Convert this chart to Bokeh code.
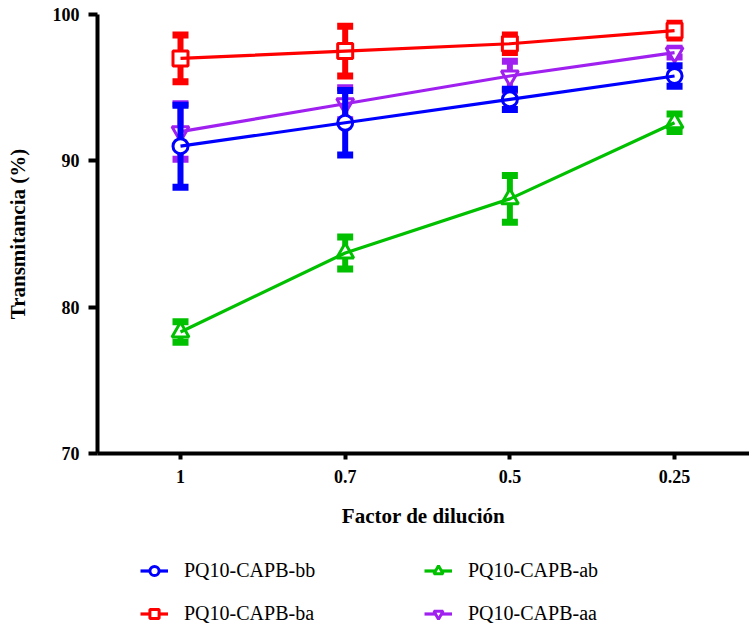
from bokeh.plotting import figure
from bokeh.models import Legend, LegendItem, FixedTicker, Range1d
from bokeh.layouts import column
from bokeh.embed import file_html
from bokeh.resources import INLINE

# ---- data ----
dilution_labels = ["1", "0.7", "0.5", "0.25"]
xpos = [0, 1, 2, 3]

bb_mean = [91.0, 92.6, 94.2, 95.8]
bb_sd = [2.8, 2.2, 0.7, 0.7]
ba_mean = [97.0, 97.5, 98.0, 98.9]
ba_sd = [1.6, 1.7, 0.6, 0.5]
ab_mean = [78.3, 83.7, 87.4, 92.6]
ab_sd = [0.7, 1.1, 1.6, 0.6]
aa_mean = [92.0, 93.9, 95.8, 97.4]
aa_sd = [1.9, 1.1, 1.0, 0.3]

y_ticks = [70, 80, 90, 100]

SERIF = "Liberation Serif"

p = figure(width=749, height=540, output_backend="svg", toolbar_location=None,
           x_range=Range1d(-0.504, 3.455), y_range=Range1d(70, 100),
           min_border_left=97, min_border_right=0, min_border_top=14,
           min_border_bottom=87)

# legend-only panel below the chart (its range keeps the series out of view)
lg = figure(width=749, height=90, output_backend="svg", toolbar_location=None,
            x_axis_type=None, y_axis_type=None,
            x_range=Range1d(0, 1), y_range=Range1d(0, 1),
            min_border_left=0, min_border_right=0, min_border_top=0,
            min_border_bottom=0)
lg.outline_line_color = None
lg.xgrid.visible = False
lg.ygrid.visible = False

series = [
    ("PQ10-CAPB-aa", aa_mean, aa_sd, "#A020F0", "inverted_triangle", 17),
    ("PQ10-CAPB-ab", ab_mean, ab_sd, "#00C000", "triangle", 17),
    ("PQ10-CAPB-ba", ba_mean, ba_sd, "#FF0000", "square", 15),
    ("PQ10-CAPB-bb", bb_mean, bb_sd, "#0000FF", "circle", 15),
]

items = {}
for name, mean, sd, color, marker, msize in series:
    upper = [m + s for m, s in zip(mean, sd)]
    lower = [m - s for m, s in zip(mean, sd)]
    p.segment(x0=xpos, y0=lower, x1=xpos, y1=upper, line_color=color, line_width=6)
    p.scatter(x=xpos, y=upper, marker="dash", size=16, line_width=7, line_color=color)
    p.scatter(x=xpos, y=lower, marker="dash", size=16, line_width=7, line_color=color)
    p.scatter(x=xpos, y=mean, marker=marker, size=msize, line_color=color,
              line_width=3, fill_color="white")
    p.line(x=xpos, y=mean, line_color=color, line_width=3.2)
    # same series in the legend panel (outside its visible range; swatches only)
    lr = lg.line(x=xpos, y=mean, line_color=color, line_width=3.2)
    mr = lg.scatter(x=xpos, y=mean, marker=marker, size=msize, line_color=color,
                    line_width=3, fill_color="white")
    items[name] = LegendItem(label=name, renderers=[lr, mr])

legend = Legend(
    items=[items["PQ10-CAPB-bb"], items["PQ10-CAPB-ba"],
           items["PQ10-CAPB-ab"], items["PQ10-CAPB-aa"]],
    location=(43, 5.5), ncols=2,
    glyph_width=28, glyph_height=23, label_height=23, label_width=220,
    label_standoff=16, spacing=20, padding=0, margin=0,
    border_line_color=None, background_fill_alpha=0,
    label_text_font=SERIF, label_text_font_size="20px", label_text_color="black",
)
lg.add_layout(legend, "center")

# axes
p.xaxis.ticker = FixedTicker(ticks=xpos)
p.xaxis.major_label_overrides = {i: l for i, l in zip(xpos, dilution_labels)}
p.yaxis.ticker = FixedTicker(ticks=y_ticks)
p.xaxis.axis_label = "Factor de dilución"
p.yaxis.axis_label = "Transmitancia (%)"

for ax in (p.xaxis, p.yaxis):
    ax.axis_line_width = 4
    ax.axis_line_color = "black"
    ax.major_tick_line_width = 4
    ax.major_tick_line_color = "black"
    ax.major_tick_in = 0
    ax.minor_tick_line_color = None
    ax.major_label_text_font = SERIF
    ax.major_label_text_font_style = "bold"
    ax.major_label_text_font_size = "18px"
    ax.major_label_text_color = "black"
    ax.axis_label_text_font = SERIF
    ax.axis_label_text_font_style = "bold"
    ax.axis_label_text_font_size = "21px"
    ax.axis_label_text_color = "black"

p.yaxis.major_tick_out = 9
p.xaxis.major_tick_out = 6
p.yaxis.major_label_standoff = 9
p.xaxis.major_label_standoff = 10
p.yaxis.axis_label_standoff = 20
p.xaxis.axis_label_standoff = 18

p.xgrid.visible = False
p.ygrid.visible = False
p.outline_line_color = None

layout = column(p, lg, spacing=0)
open("out.html", "w").write(file_html(layout, INLINE))
